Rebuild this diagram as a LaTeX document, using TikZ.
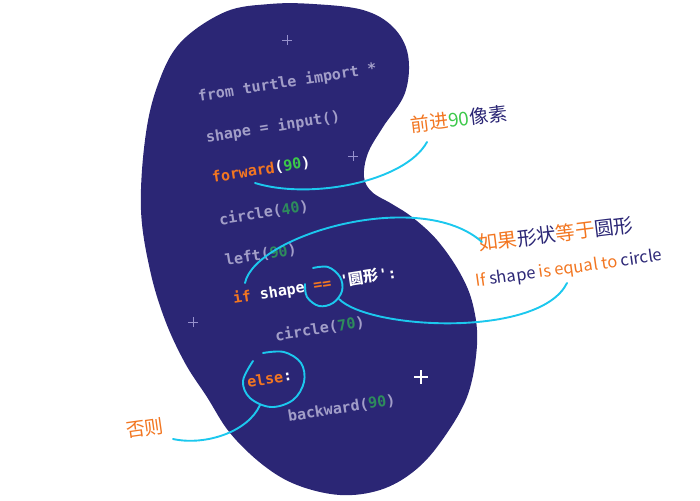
\documentclass[tikz,border=0pt]{standalone}
\usepackage{fontspec}
\setmainfont{DejaVu Sans}
\newfontfamily\codefont{DejaVu Sans Mono}
\newfontfamily\cjk{Noto Sans CJK SC}
\usepackage{tikz}
\usetikzlibrary{calc}
\definecolor{blob}{HTML}{2B2675}
\definecolor{codegray}{RGB}{162,158,200}
\definecolor{kworange}{HTML}{F27621}
\definecolor{numgreen}{HTML}{2E8C5C}
\definecolor{numbright}{HTML}{3CC84A}
\definecolor{linkcyan}{HTML}{1CC8EE}
\definecolor{sparkgray}{RGB}{150,145,205}
\tikzstyle{code} = [anchor=west,inner sep=0pt,rotate=9,text=codegray,font=\codefont\bfseries\fontsize{15}{18}\selectfont]
\tikzstyle{note} = [inner sep=0pt,font=\cjk\fontsize{19}{22}\selectfont]
\tikzstyle{link} = [draw=linkcyan,line width=1.9pt,line cap=round]
\tikzstyle{spark} = [draw=sparkgray,line width=0.9pt]
\newcommand{\kwd}[1]{\textcolor{kworange}{#1}}
\newcommand{\numb}[1]{\textcolor{numgreen}{#1}}
\newcommand{\wht}[1]{\textcolor{white}{#1}}

\begin{document}
\begin{tikzpicture}[x=1pt,y=-1pt]
	\useasboundingbox (0,0) rectangle (700,500);
	
	% the blob
	\fill[blob] plot[smooth cycle,tension=0.6] coordinates {
		(313,4) (363,10) (393,27) (408,55) (405,93) (383,127) (368,153)
		(364,177) (372,192) (392,204) (412,217) (437,240) (460,273)
		(473,305) (477,345) (467,397) (440,443) (413,472) (380,490)
		(340,495) (297,485) (263,465) (230,433) (207,397) (185,363)
		(165,320) (150,270) (141,210) (145,140) (157,87) (180,43)
		(225,12) (270,4)};
	
	% sparkles
	\foreach \p in {(287,40),(353,156),(193,322)}
	\draw[spark] \p ++(-5,0) -- ++(10,0) \p ++(0,-5) -- ++(0,10);
	\draw[white,line width=1.4pt] (421,377) ++(-7,0) -- ++(14,0) (421,377) ++(0,-7) -- ++(0,14);
	
	% code
	\node[code] (l1) at (198,97) {from turtle import *};
	\node[code] (l2) at (206,138) {shape = input()};
	\node[code] (l3) at (212,178) {\kwd{forward}\wht{(}\textcolor{numbright}{90}\wht{)}};
	\node[code] (l4) at (219,220) {circle(\numb{40})};
	\node[code] (l5) at (225,261) {left(\numb{90})};
	\node[code] (l6) at (233,299) {\kwd{if} \wht{shape} \kwd{==} \wht{'{\cjk\bfseries 圆形}':}};
	\node[code] (l7) at (275,336) {circle(\numb{70})};
	\node[code] (l8) at (247,382) {\kwd{else}\wht{:}};
	\node[code] (l9) at (288,417) {backward(\numb{90})};
	
	% notes
	\node[note,rotate=7] (n1) at (459,119) {\kwd{前进}\textcolor{numbright}{90}\textcolor{blob}{像素}};
	\node[note,rotate=7,font=\cjk\fontsize{19.5}{22}\selectfont] (n2) at (556,234) {\kwd{如果}\textcolor{blob}{形状}\kwd{等于}\textcolor{blob}{圆形}};
	\node[note,rotate=8,font=\cjk\fontsize{16.5}{18}\selectfont] (n3) at (569,269) {\kwd{If} \textcolor{blob}{shape} \kwd{is equal to} \textcolor{blob}{circle}};
	\node[note,rotate=8,text=kworange] (n4) at (145,428) {否则};
	
	% link ends
	\coordinate (fwd) at (255,183);
	\coordinate (fwdend) at (427,142);
	\coordinate (ifa) at (245,283);
	\coordinate (ifend) at (482,242);
	\coordinate (eq) at (339,299);
	\coordinate (eqend) at (567,283);
	\coordinate (els) at (260,405);
	\coordinate (elsend) at (173,439);
	
	% links
	\draw[link] (fwd) .. controls (310,200) and (405,182) .. (fwdend);
	\draw[link] (ifa) .. controls (255,235) and (420,187) .. (ifend);
	\draw[link] plot[smooth,tension=0.6] coordinates {(313,268) (328,267) (340,277) (342,291) (333,303) (319,306) (307,297) (305,284)};
	\draw[link] (eq) .. controls (370,330) and (540,338) .. (eqend);
	\draw[link] plot[smooth,tension=0.6] coordinates {(263,353) (284,352) (301,363) (304,382) (293,400) (271,407) (250,398) (243,381) (253,361)};
	\draw[link] (els) .. controls (248,432) and (205,446) .. (elsend);
\end{tikzpicture}
\end{document}
